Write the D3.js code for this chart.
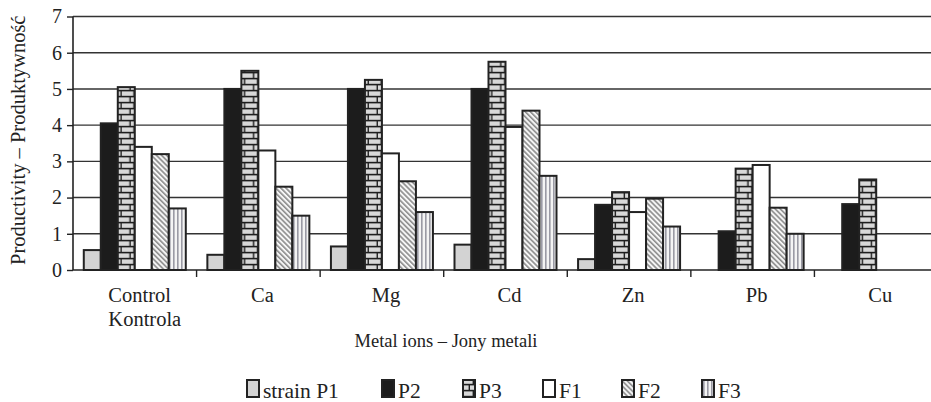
<!DOCTYPE html>
<html>
<head>
<meta charset="utf-8">
<script src="https://cdn.jsdelivr.net/npm/d3@7"></script>
<style>
  html, body { margin: 0; padding: 0; background: #fff; }
  svg { display: block; }
  svg text { font-family: "Liberation Serif", "Times New Roman", serif; }
</style>
</head>
<body>
<svg id="chart" width="931" height="402"></svg>
<script>
// Metal ion treatments on the x axis
const categories = ["Control", "Ca", "Mg", "Cd", "Zn", "Pb", "Cu"];
const categoryLabels = [["Control", "Kontrola"], ["Ca"], ["Mg"], ["Cd"], ["Zn"], ["Pb"], ["Cu"]];

// Strains
const seriesNames = ["P1", "P2", "P3", "F1", "F2", "F3"];
const legendLabels = ["strain P1", "P2", "P3", "F1", "F2", "F3"];

// Productivity per strain, one value per category
const valuesP1 = [0.55, 0.42, 0.65, 0.70, 0.30, 0, 0];
const valuesP2 = [4.05, 5.00, 5.00, 5.00, 1.80, 1.07, 1.82];
const valuesP3 = [5.05, 5.50, 5.25, 5.75, 2.15, 2.80, 2.50];
const valuesF1 = [3.40, 3.30, 3.22, 3.95, 1.60, 2.90, 0];
const valuesF2 = [3.20, 2.30, 2.45, 4.40, 1.97, 1.72, 0];
const valuesF3 = [1.70, 1.50, 1.60, 2.60, 1.20, 1.00, 0];

const yTicks = [0, 1, 2, 3, 4, 5, 6, 7];
const yTitle = "Productivity \u2013 Produktywno\u015b\u0107";
const xTitle = "Metal ions \u2013 Jony metali";

const seriesValues = [valuesP1, valuesP2, valuesP3, valuesF1, valuesF2, valuesF3];

const svg = d3.select("#chart");
const ink = "#222";
const serif = "Liberation Serif, Times New Roman, serif";

// ---- scales ----
const plotLeft = 73, plotRight = 938, plotTop = 16.5, plotBottom = 270;
const x0 = d3.scaleBand().domain(categories).range([plotLeft, plotRight]).padding(0);
const groupPad = (x0.bandwidth() - 102) / 2;
const x1 = d3.scaleBand().domain(seriesNames).range([groupPad, x0.bandwidth() - groupPad]).padding(0);
const y = d3.scaleLinear().domain([0, 7]).range([plotBottom, plotTop]);

// ---- fill patterns ----
const defs = svg.append("defs");

// brick pattern, one per anchor so the courses line up with each bar's left edge
function brickPattern(id, x0pos, y0pos) {
  const p = defs.append("pattern").attr("id", id)
    .attr("patternUnits", "userSpaceOnUse").attr("width", 13).attr("height", 12)
    .attr("x", x0pos + 1).attr("y", y0pos);
  p.append("rect").attr("width", 13).attr("height", 12).attr("fill", "#1e1e1e");
  const c = "#d8d8d8";
  p.append("rect").attr("x", 3).attr("y", 1.4).attr("width", 10.6).attr("height", 4.4).attr("fill", c);
  p.append("rect").attr("x", 0).attr("y", 1.4).attr("width", 1.6).attr("height", 4.4).attr("fill", c);
  p.append("rect").attr("x", 0).attr("y", 7.4).attr("width", 10.6).attr("height", 4.4).attr("fill", c);
  p.append("rect").attr("x", 12).attr("y", 7.4).attr("width", 1).attr("height", 4.4).attr("fill", c);
}
categories.forEach((c, ci) => brickPattern("pat-brick-" + ci, x0(c) + x1("P3"), plotBottom));

// diagonal hatch
const diag = defs.append("pattern").attr("id", "pat-diag")
  .attr("patternUnits", "userSpaceOnUse").attr("width", 3.6).attr("height", 3.6)
  .attr("patternTransform", "rotate(-45)");
diag.append("rect").attr("width", 3.6).attr("height", 3.6).attr("fill", "#f6f6f6");
diag.append("rect").attr("width", 1.6).attr("height", 3.6).attr("fill", "#8c8c8c");

// vertical stripes
const vert = defs.append("pattern").attr("id", "pat-vert")
  .attr("patternUnits", "userSpaceOnUse").attr("width", 4).attr("height", 4);
vert.append("rect").attr("width", 4).attr("height", 4).attr("fill", "#f4f4f4");
vert.append("rect").attr("x", 1).attr("width", 1.6).attr("height", 4).attr("fill", "#9a9aa4");

const fillFor = (si, ci) => ["#d3d3d3", "#1c1c1c", `url(#pat-brick-${ci})`, "#ffffff", "url(#pat-diag)", "url(#pat-vert)"][si];

// ---- gridlines ----
svg.append("g")
  .selectAll("line").data(yTicks.filter(d => d > 0)).join("line")
  .attr("x1", plotLeft).attr("x2", plotRight)
  .attr("y1", d => y(d)).attr("y2", d => y(d))
  .attr("stroke", "#333").attr("stroke-width", 1.4);

// ---- bars ----
const rows = [];
categories.forEach((c, ci) => {
  seriesNames.forEach((s, si) => {
    const v = seriesValues[si][ci];
    if (v > 0) rows.push({ c, ci, s, si, v });
  });
});
svg.append("g").selectAll("rect").data(rows).join("rect")
  .attr("x", d => x0(d.c) + x1(d.s))
  .attr("y", d => y(d.v))
  .attr("width", x1.bandwidth())
  .attr("height", d => y(0) - y(d.v))
  .attr("fill", d => fillFor(d.si, d.ci))
  .attr("stroke", ink).attr("stroke-width", 2);

// ---- axes ----
const yAxis = svg.append("g").attr("transform", `translate(${plotLeft},0)`)
  .call(d3.axisLeft(y).tickValues(yTicks).tickSize(6).tickPadding(5).tickFormat(d3.format("d")))
  .attr("font-family", serif);
yAxis.select(".domain").attr("stroke", ink).attr("stroke-width", 1.6).attr("d", `M0,${plotTop}V${plotBottom}`);
yAxis.selectAll(".tick line").attr("stroke", ink).attr("stroke-width", 1.4);
yAxis.selectAll(".tick text").attr("font-size", 20).attr("fill", ink).attr("font-family", serif);

const xAxis = svg.append("g").attr("transform", `translate(0,${plotBottom})`);
xAxis.append("line").attr("x1", plotLeft).attr("x2", plotRight).attr("y1", 0).attr("y2", 0)
  .attr("stroke", ink).attr("stroke-width", 1.6);
xAxis.selectAll("line.tk").data(categories.slice(1)).join("line").attr("class", "tk")
  .attr("x1", d => x0(d)).attr("x2", d => x0(d)).attr("y1", 0).attr("y2", 7)
  .attr("stroke", ink).attr("stroke-width", 1.4);

// category labels (lines of a label share a left edge, block centred on the band)
categories.forEach((c, ci) => {
  const lines = categoryLabels[ci];
  const cx = x0(c) + x0.bandwidth() / 2 + 4;
  const t = svg.append("text").attr("font-size", 20.5).attr("fill", ink).attr("font-family", serif);
  lines.forEach((ln, li) => {
    t.append("tspan").attr("y", 302 + li * 23.5).text(ln);
  });
  if (lines.length > 1) {
    const widths = [];
    t.selectAll("tspan").each(function () { widths.push(this.getComputedTextLength()); });
    t.selectAll("tspan").attr("x", cx + 6 - d3.max(widths) / 2);
  } else {
    t.selectAll("tspan").attr("x", cx).attr("text-anchor", "middle");
  }
});

// axis titles
svg.append("text").attr("x", 446).attr("y", 347).attr("text-anchor", "middle")
  .attr("font-size", 18.5).attr("fill", ink).attr("font-family", serif).text(xTitle);
svg.append("text").attr("transform", `translate(25,${(plotTop + plotBottom) / 2 - 3}) rotate(-90)`)
  .attr("text-anchor", "middle").attr("font-size", 20.5).attr("fill", ink).attr("font-family", serif).text(yTitle);

// ---- legend ----
const legendX = [247, 382, 463, 543, 622, 702];
brickPattern("pat-brick-legend", legendX[2] - 1, 378);
const legendFill = ["#d3d3d3", "#1c1c1c", "url(#pat-brick-legend)", "#ffffff", "url(#pat-diag)", "url(#pat-vert)"];
const lg = svg.append("g").selectAll("g").data(seriesNames).join("g")
  .attr("transform", (d, i) => `translate(${legendX[i]},0)`);
lg.append("rect").attr("x", 0).attr("y", 380).attr("width", 12).attr("height", 17)
  .attr("fill", (d, i) => legendFill[i]).attr("stroke", ink).attr("stroke-width", 2);
lg.append("text").attr("x", 16).attr("y", 398).attr("font-size", 21.5).attr("fill", ink)
  .attr("font-family", serif).text((d, i) => legendLabels[i]);
</script>
</body>
</html>
